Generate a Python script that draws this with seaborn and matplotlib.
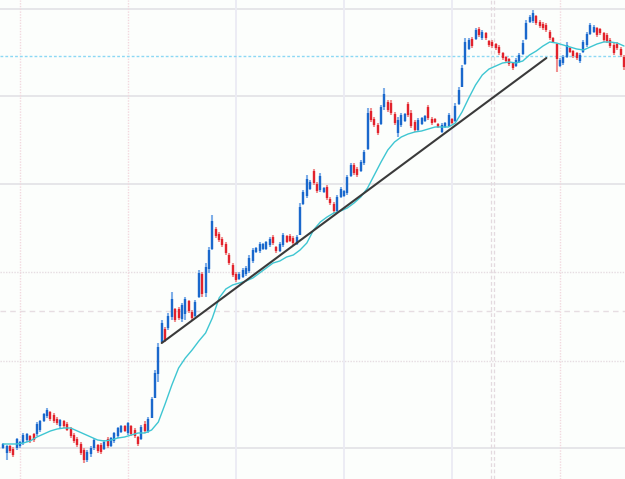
import numpy as np
import pandas as pd
import matplotlib
matplotlib.use("Agg")
import matplotlib.pyplot as plt
import seaborn as sns

# OHLC bars (price in points), one bar per period
opens = [31, 26, 33, 30, 31, 33, 36, 39, 43, 45,
         45, 49, 58, 63, 67, 64, 60, 53, 58, 55,
         50, 44, 40, 35, 29, 19, 25, 31, 34, 34,
         30, 40, 33, 38, 43, 47, 53, 46, 53, 49,
         42, 40, 55, 48, 61, 81, 105, 137, 150, 151,
         162, 170, 170, 160, 165, 178, 167, 163, 182, 205,
         186, 210, 230, 250, 245, 240, 235, 224, 214, 205,
         200, 202, 205, 208, 218, 227, 228, 230, 230, 234,
         242, 232, 228, 234, 243, 243, 241, 235, 244, 275,
         283, 290, 308, 295, 289, 287, 292, 280, 275, 268,
         282, 283, 286, 303, 314, 310, 308, 316, 330, 368,
         360, 354, 355, 372, 377, 376, 365, 346, 354, 358,
         375, 366, 357, 349, 355, 358, 372, 360, 360, 355,
         347, 352, 353, 360, 358, 375, 392, 415, 430, 440,
         440, 450, 441, 446, 438, 437, 435, 432, 426, 422,
         420, 416, 413, 417, 425, 440, 457, 458, 463, 457,
         455, 454, 447, 441, 435, 413, 416, 422, 431, 428,
         426, 418, 427, 434, 445, 447, 451, 450, 446, 444,
         439, 434, 435, 430, 422]
closes = [35, 33, 28, 24, 40, 37, 44, 45, 38, 39,
          55, 58, 65, 69, 60, 58, 56, 59, 53, 49,
          43, 38, 34, 26, 19, 27, 31, 39, 28, 27,
          37, 33, 41, 46, 51, 53, 48, 56, 45, 43,
          35, 52, 48, 60, 80, 106, 132, 156, 139, 163,
          180, 159, 161, 174, 180, 168, 161, 177, 206, 185,
          212, 229, 258, 243, 239, 234, 226, 216, 204, 199,
          205, 209, 211, 221, 229, 231, 235, 235, 237, 240,
          236, 228, 235, 244, 237, 238, 236, 242, 272, 287,
          300, 297, 296, 288, 303, 291, 281, 276, 268, 282,
          290, 288, 302, 314, 306, 304, 317, 327, 366, 359,
          354, 346, 372, 385, 369, 366, 356, 359, 364, 365,
          364, 353, 349, 359, 361, 363, 361, 356, 357, 352,
          354, 356, 364, 356, 373, 389, 411, 437, 439, 433,
          449, 444, 447, 441, 434, 433, 431, 426, 421, 418,
          415, 411, 419, 424, 436, 456, 462, 466, 456, 453,
          451, 449, 441, 437, 420, 419, 422, 434, 427, 423,
          421, 424, 437, 445, 454, 452, 444, 446, 439, 438,
          433, 426, 431, 424, 412]
highs = [36, 34, 34, 32, 41, 38, 46, 46, 44, 46,
         57, 59, 66, 71, 68, 66, 62, 60, 59, 57,
         52, 46, 42, 37, 31, 29, 33, 41, 35, 36,
         39, 42, 42, 47, 52, 54, 54, 57, 54, 51,
         43, 54, 58, 62, 82, 109, 136, 159, 152, 166,
         187, 171, 172, 176, 182, 179, 169, 179, 209, 207,
         216, 232, 264, 252, 247, 242, 237, 226, 216, 207,
         207, 211, 213, 224, 231, 232, 237, 236, 238, 242,
         244, 233, 237, 246, 244, 245, 243, 244, 276, 289,
         304, 299, 310, 297, 306, 292, 294, 282, 277, 284,
         292, 289, 304, 316, 316, 312, 319, 329, 371, 371,
         362, 356, 374, 391, 379, 379, 367, 362, 366, 366,
         377, 369, 359, 361, 362, 364, 374, 362, 361, 356,
         356, 357, 366, 361, 376, 392, 414, 441, 441, 442,
         451, 452, 449, 447, 439, 439, 436, 434, 427, 423,
         421, 417, 421, 426, 439, 459, 464, 469, 464, 459,
         457, 456, 449, 442, 436, 421, 424, 437, 432, 429,
         427, 426, 439, 447, 456, 454, 452, 451, 447, 446,
         441, 436, 437, 432, 424]
lows = [30, 19, 26, 22, 29, 31, 34, 37, 36, 37,
        43, 47, 57, 61, 58, 56, 54, 51, 51, 48,
        41, 36, 32, 24, 16, 17, 22, 29, 26, 25,
        29, 31, 32, 36, 41, 46, 47, 44, 43, 41,
        33, 39, 46, 46, 61, 81, 97, 136, 137, 149,
        159, 157, 159, 157, 159, 166, 159, 162, 181, 182,
        182, 206, 229, 241, 237, 232, 224, 214, 202, 197,
        199, 201, 203, 206, 216, 226, 226, 229, 229, 232,
        234, 226, 227, 232, 236, 237, 234, 234, 244, 274,
        281, 289, 294, 286, 287, 286, 279, 274, 266, 267,
        281, 282, 284, 302, 304, 302, 307, 314, 329, 357,
        352, 344, 354, 369, 367, 364, 354, 342, 352, 357,
        362, 351, 347, 348, 354, 357, 359, 354, 356, 351,
        346, 351, 352, 355, 357, 374, 392, 414, 429, 431,
        439, 442, 439, 439, 432, 431, 429, 424, 419, 416,
        413, 409, 412, 416, 424, 439, 456, 456, 454, 451,
        449, 447, 439, 436, 407, 412, 414, 421, 426, 421,
        419, 416, 426, 432, 444, 446, 442, 444, 437, 436,
        431, 424, 429, 422, 409]

# moving average, read every 2nd bar
ma_bar = list(range(0, 185, 2))
ma_val = [35, 35, 35, 36, 38, 42, 45, 48, 50, 51,
          51, 48, 45, 42, 39, 38, 39, 41, 42, 44,
          46, 46, 49, 57, 75, 94, 111, 121, 129, 138,
          146, 161, 181, 190, 194, 196, 198, 201, 206, 211,
          216, 218, 222, 224, 229, 236, 249, 257, 262, 266,
          268, 271, 276, 282, 291, 304, 317, 329, 337, 342,
          345, 347, 348, 350, 352, 352, 352, 356, 367, 381,
          394, 404, 410, 413, 416, 417, 416, 418, 424, 428,
          433, 437, 436, 434, 432, 430, 429, 432, 435, 437,
          437, 436, 433]

# trend line anchors (bar, price)
trend_bar = [47, 161]
trend_val = [136, 421]

# grid levels
h_solid = [31, 295, 383, 470]
h_dotted = [118, 207]
h_dashed = [168]
level_line = 423
v_solid = [69, 101, 133]
v_dotted = [5, 37, 165]
v_dashed = [144.6, 145.5]

df = pd.DataFrame({"bar": np.arange(len(opens)), "open": opens, "high": highs,
                   "low": lows, "close": closes})
df["up"] = df["close"] >= df["open"]

sns.set_style("white")
fig = plt.figure(figsize=(6.25, 4.79), dpi=100)
fig.patch.set_facecolor("#fcfefc")
ax = fig.add_axes([0, 0, 1, 1])
ax.set_axis_off()

for p in h_solid:
    ax.axhline(p, color="#e2e2e6", lw=1.2, zorder=0)
for p in h_dotted:
    ax.axhline(p, color="#e6dde2", lw=1.0, ls=(0, (1, 1)), zorder=0)
for p in h_dashed:
    ax.axhline(p, color="#e6dde2", lw=1.0, ls=(0, (4, 3)), zorder=0)
for b in v_solid:
    ax.axvline(b, color="#ebebf4", lw=1.3, zorder=0)
for b in v_dotted:
    ax.axvline(b, color="#f2d8de", lw=1.0, ls=(0, (1, 1)), zorder=0)
for b in v_dashed:
    ax.axvline(b, color="#e4dadf", lw=0.9, ls=(0, (3, 2)), zorder=0)
ax.axhline(level_line, color="#8cd8f4", lw=1.0, ls=(0, (2, 1.5)), zorder=0)

wick_col = np.where(df["up"], "#7eaee8", "#f09090")
body_col = np.where(df["up"], "#1a68cc", "#e2222c")
ax.vlines(df["bar"], df["low"], df["high"], colors=wick_col, lw=1.5, zorder=2)
ax.vlines(df["bar"], df[["open", "close"]].min(axis=1), df[["open", "close"]].max(axis=1),
          colors=body_col, lw=1.7, zorder=3)

sns.lineplot(x=ma_bar, y=ma_val, ax=ax, color="#3ec6d2", lw=1.0, zorder=4)
sns.lineplot(x=trend_bar, y=trend_val, ax=ax, color="#3a3a3a", lw=1.5, zorder=5)

ax.set_xlim(-0.93, 184.3)
ax.set_ylim(0, 479)

fig.savefig("out.png", dpi=100, facecolor=fig.get_facecolor())
